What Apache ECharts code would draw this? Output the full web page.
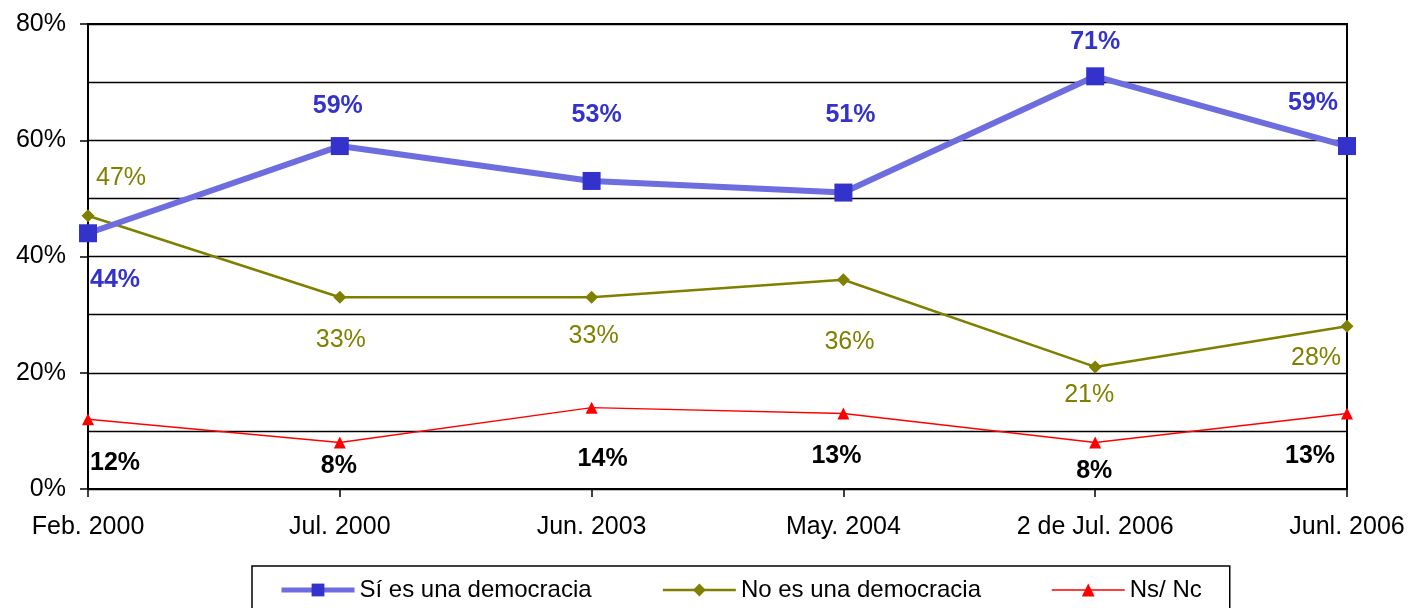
<!DOCTYPE html>
<html>
<head>
<meta charset="utf-8">
<script src="https://cdn.jsdelivr.net/npm/echarts@6/dist/echarts.min.js"></script>
<style>
  html, body { margin: 0; padding: 0; background: #fff; }
  #chart { width: 1408px; height: 608px; }
</style>
</head>
<body>
<div id="chart"></div>
<script>
const categories = ['Feb. 2000', 'Jul. 2000', 'Jun. 2003', 'May. 2004', '2 de Jul. 2006', 'Junl. 2006'];
const siValues = [44, 59, 53, 51, 71, 59];
const noValues = [47, 33, 33, 36, 21, 28];
const nsValues = [12, 8, 14, 13, 8, 13];
const yTicks = [0, 20, 40, 60, 80];

// where each value label sits, relative to its point (px)
const siLabelOffsets = [[27, 47], [-2, -40], [5, -66], [7, -77], [0, -34], [-34, -43]];
const noLabelOffsets = [[33, -38], [1, 43], [2, 39], [6, 62], [-6, 28], [-31, 32]];
const nsLabelOffsets = [[27, 44], [-1, 24], [11, 51], [-7, 43], [-1, 29], [-37, 43]];

const font = 'Liberation Sans, Arial, sans-serif';

function withLabels(values, offsets) {
  return values.map((v, i) => ({
    value: v,
    label: { offset: offsets[i] }
  }));
}

const chart = echarts.init(document.getElementById('chart'));

const option = {
  backgroundColor: '#fff',
  animation: false,
  grid: {
    left: 88,
    right: 61,
    top: 24,
    bottom: 119,
    show: true,
    borderColor: '#000',
    borderWidth: 2
  },
  legend: {
    top: 566,
    left: 252,
    padding: [12, 28, 12, 27],
    borderColor: '#000',
    borderWidth: 1.5,
    itemWidth: 73,
    itemHeight: 16,
    itemGap: 70,
    textStyle: { fontFamily: font, fontSize: 24, color: '#000' },
    data: [
      { name: 'Sí es una democracia', lineStyle: { width: 5 } },
      { name: 'No es una democracia', lineStyle: { width: 2.5 } },
      { name: 'Ns/ Nc', lineStyle: { width: 1.5 } }
    ]
  },
  xAxis: {
    type: 'category',
    data: categories,
    boundaryGap: false,
    axisLine: { lineStyle: { color: '#000', width: 2 } },
    axisTick: { show: true, length: 8, alignWithLabel: true, lineStyle: { color: '#000', width: 1.5 } },
    axisLabel: { fontFamily: font, fontSize: 25, color: '#000', margin: 26 },
    splitLine: { show: false }
  },
  yAxis: {
    type: 'value',
    min: yTicks[0],
    max: yTicks[yTicks.length - 1],
    interval: 20,
    axisLine: { show: true, lineStyle: { color: '#000', width: 2 } },
    axisTick: { show: true, length: 8, lineStyle: { color: '#000', width: 1.5 } },
    axisLabel: {
      fontFamily: font, fontSize: 25, color: '#000', margin: 22,
      formatter: v => v + '%'
    },
    splitLine: { show: true, lineStyle: { color: '#000', width: 1.3 } },
    minorTick: { show: false, splitNumber: 2 },
    minorSplitLine: { show: true, lineStyle: { color: '#000', width: 1.3 } }
  },
  series: [
    {
      name: 'Sí es una democracia',
      type: 'line',
      data: withLabels(siValues, siLabelOffsets),
      z: 5,
      symbol: 'rect',
      symbolSize: 18,
      itemStyle: { color: '#3333CC' },
      lineStyle: { color: '#6D6DE0', width: 6 },
      label: {
        show: true,
        position: 'inside',
        fontFamily: font,
        fontSize: 25,
        fontWeight: 'bold',
        color: '#3333CC',
        formatter: p => p.value + '%'
      }
    },
    {
      name: 'No es una democracia',
      type: 'line',
      data: withLabels(noValues, noLabelOffsets),
      z: 4,
      symbol: 'diamond',
      symbolSize: 13,
      itemStyle: { color: '#808000' },
      lineStyle: { color: '#808000', width: 2.5 },
      label: {
        show: true,
        position: 'inside',
        fontFamily: font,
        fontSize: 25,
        color: '#808000',
        formatter: p => p.value + '%'
      }
    },
    {
      name: 'Ns/ Nc',
      type: 'line',
      data: withLabels(nsValues, nsLabelOffsets),
      z: 3,
      symbol: 'triangle',
      symbolSize: 12,
      itemStyle: { color: '#FF0000' },
      lineStyle: { color: '#FF0000', width: 1.5 },
      label: {
        show: true,
        position: 'inside',
        fontFamily: font,
        fontSize: 25,
        fontWeight: 'bold',
        color: '#000',
        formatter: p => p.value + '%'
      }
    }
  ]
};

chart.setOption(option);
</script>
</body>
</html>
